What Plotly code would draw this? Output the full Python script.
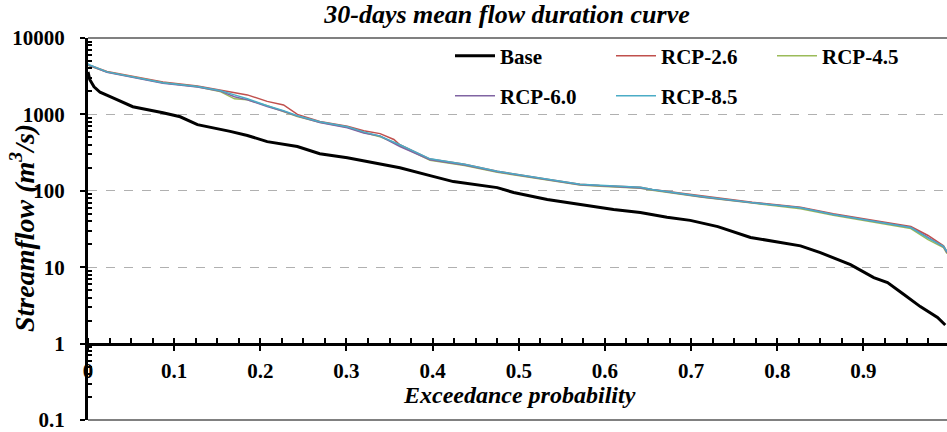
import plotly.graph_objects as go

# ---------------- data ----------------
base_p = [0.0, 0.002, 0.007, 0.014, 0.029, 0.052, 0.087, 0.107, 0.127, 0.145, 0.165,
          0.185, 0.208, 0.243, 0.269, 0.301, 0.339, 0.362, 0.397, 0.424, 0.475, 0.494,
          0.533, 0.571, 0.610, 0.641, 0.672, 0.699, 0.731, 0.769, 0.812, 0.827, 0.850,
          0.885, 0.912, 0.928, 0.947, 0.966, 0.986, 0.995]
base_q = [3600, 2870, 2300, 1950, 1650, 1260, 1050, 930, 735, 670, 600,
          530, 440, 380, 305, 270, 225, 200, 158, 132, 110, 95,
          77, 66, 57, 52, 45, 41, 34, 24.5, 20.4, 19, 15.5,
          10.8, 7.3, 6.3, 4.4, 3.05, 2.2, 1.75]

rcp_p = [0.0, 0.002, 0.022, 0.049, 0.087, 0.127, 0.153, 0.170, 0.185, 0.208, 0.227,
         0.243, 0.269, 0.301, 0.320, 0.339, 0.355, 0.362, 0.397, 0.437, 0.475, 0.533,
         0.571, 0.594, 0.641, 0.655, 0.713, 0.771, 0.827, 0.865, 0.923, 0.955, 0.975,
         0.993, 0.997]
rcp26_q = [4550, 4400, 3650, 3200, 2650, 2350, 2100, 1950, 1800, 1480, 1330,
           1000, 810, 700, 610, 560, 470, 400, 260, 222, 180, 142,
           122, 117, 111, 104, 85, 71, 61, 50, 39, 34, 26, 19, 16]
rcp45_q = [4400, 4300, 3600, 3150, 2600, 2300, 2000, 1600, 1550, 1300, 1100,
           940, 790, 680, 580, 510, 430, 390, 250, 215, 175, 137,
           119, 115, 108, 102, 82, 69, 58, 48, 37, 32, 23, 18, 15]
rcp60_q = [4500, 4350, 3550, 3100, 2550, 2280, 2030, 1700, 1550, 1270, 1100,
           950, 780, 670, 570, 520, 420, 380, 255, 218, 177, 139,
           120, 116, 109, 103, 83, 70, 60, 49, 38, 33, 24.5, 18.5, 15.5]
rcp85_q = [4600, 4450, 3600, 3150, 2600, 2320, 2050, 1800, 1600, 1300, 1120,
           960, 800, 690, 590, 520, 440, 400, 262, 222, 180, 141,
           122, 118, 111, 104, 84, 70, 60, 49, 38, 33, 24, 18.7, 16]

x_ticks = [0, 0.1, 0.2, 0.3, 0.4, 0.5, 0.6, 0.7, 0.8, 0.9]
x_tick_text = ["0", "0.1", "0.2", "0.3", "0.4", "0.5", "0.6", "0.7", "0.8", "0.9"]
y_ticks = [0.1, 1, 10, 100, 1000, 10000]
y_tick_text = ["0.1", "1", "10", "100", "1000", "10000"]

# ---------------- figure ----------------
FONT = "Liberation Serif, Times New Roman, serif"
W, H = 947, 432
L, R, T, B = 88, 0, 38, 12
PW, PH = W - L - R, H - T - B
fig = go.Figure()

fig.add_trace(go.Scatter(x=base_p, y=base_q, name="Base", mode="lines",
                         line=dict(color="black", width=3), legend="legend"))
fig.add_trace(go.Scatter(x=rcp_p, y=rcp26_q, name="RCP-2.6", mode="lines",
                         line=dict(color="#C0504D", width=1.5), legend="legend"))
fig.add_trace(go.Scatter(x=rcp_p, y=rcp45_q, name="RCP-4.5", mode="lines",
                         line=dict(color="#9BBB59", width=1.5), legend="legend"))
fig.add_trace(go.Scatter(x=rcp_p, y=rcp60_q, name="RCP-6.0", mode="lines",
                         line=dict(color="#8064A2", width=1.5), legend="legend2"))
fig.add_trace(go.Scatter(x=rcp_p, y=rcp85_q, name="RCP-8.5", mode="lines",
                         line=dict(color="#4BACC6", width=1.5), legend="legend2"))
# invisible trace to activate the overlay axis (major ticks on the inner side)
fig.add_trace(go.Scatter(x=[0], y=[1], xaxis="x2", mode="lines", showlegend=False,
                         hoverinfo="skip", line=dict(width=0)))

minor_y = [m * 10 ** e for e in range(-1, 4) for m in range(2, 10)]

legend_common = dict(orientation="h", xref="container", yref="container",
                     xanchor="left", yanchor="middle",
                     entrywidth=106, entrywidthmode="pixels", itemwidth=40,
                     bgcolor="rgba(0,0,0,0)", font=dict(size=21, weight="bold"))

fig.update_layout(
    width=W, height=H,
    margin=dict(l=L, r=R, t=T, b=B, autoexpand=False),
    plot_bgcolor="rgba(0,0,0,0)", paper_bgcolor="white",
    font=dict(family=FONT, color="black", size=21),
    title=dict(text="30-days mean flow duration curve", x=507 / W, xref="container",
               xanchor="center", y=1 - 14 / H, yref="container", yanchor="middle",
               font=dict(family=FONT, size=26, weight="bold", style="italic")),
    xaxis=dict(range=[0, 0.997], anchor="free", position=0.2,
               tickvals=x_ticks, ticktext=x_tick_text,
               showline=True, linecolor="black", linewidth=3,
               ticks="outside", ticklen=5, tickwidth=2, tickcolor="black",
               minor=dict(dtick=0.025, tick0=0, ticks="inside", ticklen=5,
                          tickwidth=2, tickcolor="black", showgrid=False),
               showgrid=False, zeroline=False, ticklabelstandoff=2,
               ticklabeloverflow="allow",
               tickfont=dict(size=21, weight="bold")),
    xaxis2=dict(range=[0, 0.997], overlaying="x", anchor="free", position=0.2,
                tickvals=x_ticks, showticklabels=False, showline=False,
                ticks="inside", ticklen=5, tickwidth=2, tickcolor="black",
                showgrid=False, zeroline=False),
    yaxis=dict(type="log", range=[-1.0002, 4], tickvals=y_ticks, ticktext=y_tick_text,
               showline=True, linecolor="black", linewidth=3,
               ticks="outside", ticklen=5, tickwidth=2, tickcolor="black",
               minor=dict(tickvals=minor_y, ticks="inside", ticklen=4,
                          tickwidth=2, tickcolor="black", showgrid=False),
               showgrid=True, gridcolor="#b0b0b0", gridwidth=1, griddash="dash",
               zeroline=False, ticklabelstandoff=11, ticklabeloverflow="allow",
               tickfont=dict(size=21, weight="bold")),
    legend=dict(legend_common, x=450 / W, y=1 - 56 / H),
    legend2=dict(legend_common, x=450 / W, y=1 - 96 / H),
    annotations=[
        dict(text="Exceedance probability", xref="paper", yref="paper",
             x=(519 - L) / PW, y=(H - B - 395) / PH, xanchor="center", yanchor="middle",
             showarrow=False,
             font=dict(family=FONT, size=24, weight="bold", style="italic")),
        dict(text="Streamflow (m<sup>3</sup>/s)", xref="paper", yref="paper",
             x=(22 - L) / PW, y=(H - B - 228) / PH, xanchor="center", yanchor="middle",
             textangle=-90, showarrow=False,
             font=dict(family=FONT, size=28, weight="bold", style="italic")),
    ],
    shapes=[
        dict(type="line", xref="paper", yref="paper", x0=0, x1=1, y0=1, y1=1,
             line=dict(color="#808080", width=2), layer="below"),
        dict(type="line", xref="paper", yref="paper", x0=0, x1=1, y0=0, y1=0,
             line=dict(color="#808080", width=2), layer="below"),
    ],
)

fig.write_html("out.html", config={"displayModeBar": False},
               post_script="document.body.style.margin='0';"
                           "document.body.style.overflow='hidden';")
